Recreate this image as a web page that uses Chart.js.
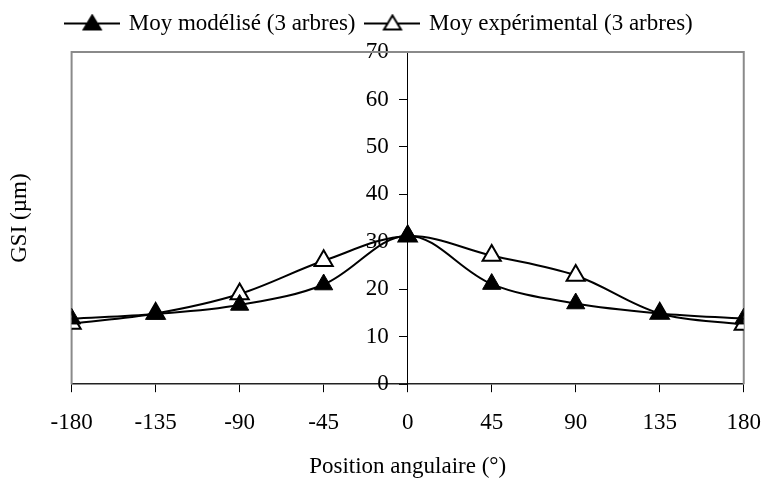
<!DOCTYPE html>
<html>
<head>
<meta charset="utf-8">
<script src="https://cdn.jsdelivr.net/npm/chart.js@4.4.1/dist/chart.umd.min.js"></script>
<style>
  html, body { margin: 0; padding: 0; background: #fff; }
  #wrap { width: 764px; height: 481px; position: relative; }
</style>
</head>
<body>
<div id="wrap"><canvas id="gsiChart"></canvas></div>
<script>
// angular positions (deg) and mean GSI values (µm)
const angles = [-180, -135, -90, -45, 0, 45, 90, 135, 180];
const moyModelise = [13.8, 14.8, 16.7, 21.0, 31.3, 21.1, 17.0, 14.9, 13.8];
const moyExperimental = [12.8, 14.9, 19.0, 26.0, 31.2, 27.1, 22.9, 14.9, 12.6];
const seriesNames = ['Moy modélisé (3 arbres)', 'Moy expérimental (3 arbres)'];
const xTicks = [-180, -135, -90, -45, 0, 45, 90, 135, 180];
const yTicks = [0, 10, 20, 30, 40, 50, 60, 70];

const FONT = 'Liberation Serif, Times New Roman, serif';
const FSIZE = 23;

// legend swatch: line with triangle marker, like the Excel legend
function legendSwatch(filled) {
  const c = document.createElement('canvas');
  c.width = 56; c.height = 20;
  const g = c.getContext('2d');
  g.strokeStyle = '#000';
  g.lineWidth = 2;
  g.beginPath(); g.moveTo(0, 10); g.lineTo(56, 10); g.stroke();
  g.beginPath();
  g.moveTo(28, 2); g.lineTo(36.5, 16); g.lineTo(19.5, 16); g.closePath();
  g.fillStyle = filled ? '#000' : '#fff';
  g.fill();
  g.lineWidth = 2;
  g.stroke();
  return c;
}

const frameBox = {
  id: 'frameBox',
  beforeDatasetsDraw(chart) {
    const a = chart.chartArea;
    const ctx = chart.ctx;
    ctx.save();
    ctx.strokeStyle = '#8a8a8a';
    ctx.lineWidth = 2;
    ctx.beginPath();
    ctx.moveTo(a.left, a.bottom);
    ctx.lineTo(a.left, a.top);
    ctx.lineTo(a.right, a.top);
    ctx.lineTo(a.right, a.bottom);
    ctx.stroke();
    ctx.restore();
  }
};

const toPoints = vals => vals.map((v, i) => ({ x: angles[i], y: v }));

new Chart(document.getElementById('gsiChart'), {
  type: 'line',
  data: {
    datasets: [
      {
        label: seriesNames[0],
        data: toPoints(moyModelise),
        borderColor: '#000',
        borderWidth: 2,
        backgroundColor: '#000',
        pointStyle: 'triangle',
        pointRadius: 10.5,
        pointBorderWidth: 1,
        pointBackgroundColor: '#000',
        pointBorderColor: '#000',
        tension: 0.35,
        fill: false
      },
      {
        label: seriesNames[1],
        data: toPoints(moyExperimental),
        borderColor: '#000',
        borderWidth: 2,
        backgroundColor: '#fff',
        pointStyle: 'triangle',
        pointRadius: 10.5,
        pointBorderWidth: 2,
        pointBackgroundColor: '#fff',
        pointBorderColor: '#000',
        tension: 0.35,
        fill: false
      }
    ]
  },
  options: {
    responsive: true,
    maintainAspectRatio: false,
    animation: false,
    layout: { padding: { right: 4 } },
    plugins: {
      legend: {
        position: 'top',
        labels: {
          usePointStyle: true,
          pointStyleWidth: 50,
          padding: 12,
          color: '#000',
          font: { family: FONT, size: FSIZE },
          generateLabels(chart) {
            return chart.data.datasets.map((ds, i) => ({
              text: ds.label,
              pointStyle: legendSwatch(i === 0),
              fillStyle: '#000',
              strokeStyle: '#000',
              lineWidth: 0,
              hidden: false,
              datasetIndex: i
            }));
          }
        }
      },
      tooltip: { enabled: false }
    },
    scales: {
      x: {
        type: 'linear',
        position: 'bottom',
        min: -180,
        max: 180,
        afterBuildTicks: axis => { axis.ticks = xTicks.map(v => ({ value: v })); },
        // tall line height pushes the labels down without widening side padding
        ticks: { color: '#000', font: { family: FONT, size: FSIZE, lineHeight: 2.4 }, padding: 3, maxRotation: 0 },
        grid: { drawOnChartArea: false, drawTicks: true, tickLength: 8, color: '#000', lineWidth: 1 },
        border: { display: true, color: '#222', width: 1.5 },
        title: {
          display: true,
          text: 'Position angulaire (°)',
          color: '#000',
          font: { family: FONT, size: FSIZE },
          padding: { top: 0, bottom: 0 }
        }
      },
      xTop: {
        type: 'linear',
        position: 'top',
        min: -180,
        max: 180,
        ticks: { display: false },
        grid: { display: true, drawOnChartArea: false, drawTicks: true, tickLength: 7, color: 'rgba(0,0,0,0)' },
        border: { display: false }
      },
      y: {
        type: 'linear',
        position: 'center',
        min: 0,
        max: 70,
        afterBuildTicks: axis => { axis.ticks = yTicks.map(v => ({ value: v })); },
        ticks: { color: '#000', font: { family: FONT, size: FSIZE }, padding: 11 },
        grid: { drawOnChartArea: false, drawTicks: true, tickLength: 8, color: '#000', lineWidth: 1 },
        border: { display: true, color: '#000', width: 1 }
      },
      yTitle: {
        type: 'linear',
        position: 'left',
        min: 0,
        max: 70,
        ticks: { display: false },
        grid: { display: false },
        border: { display: false },
        title: {
          display: true,
          text: 'GSI (µm)',
          color: '#000',
          font: { family: FONT, size: FSIZE },
          padding: { top: 6, bottom: 30 }
        }
      }
    }
  },
  plugins: [frameBox]
});
</script>
</body>
</html>
